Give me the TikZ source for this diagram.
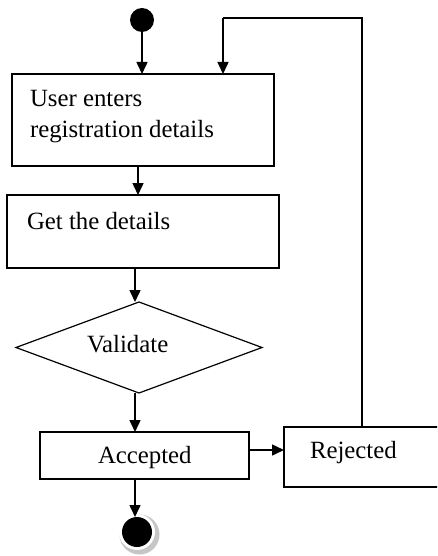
\documentclass[tikz,border=0pt]{standalone}
\usepackage{fontspec}
\setmainfont{Liberation Serif}
\usetikzlibrary{arrows.meta,shapes.geometric}
\begin{document}
\begin{tikzpicture}[x=1pt,y=-1pt,
  every node/.style={inner sep=0pt,outer sep=0pt},
  box/.style={draw,line width=1.5pt,fill=white},
  lbl/.style={anchor=base west,font=\fontsize{24.8}{32}\selectfont},
  arr/.style={line width=1.5pt,-{Triangle[width=11pt,length=12pt]}},
  ln/.style={line width=1.5pt}
]
\fill[white] (0,0) rectangle (437,556);
\useasboundingbox (0,0) rectangle (437,556);
\clip (0,0) rectangle (437,556);

% nodes
\node[circle,fill=black,minimum size=24pt] (start) at (142,20) {};
\node[box,minimum width=262pt,minimum height=92pt] (b1) at (143,120) {};
\node[lbl] (t1a) at (30,107) {User enters};
\node[lbl] (t1b) at (30,138) {registration details};
\node[box,minimum width=272pt,minimum height=73pt] (b2) at (143,231.5) {};
\node[lbl] (t2) at (27,229) {Get the details};
\node[draw,diamond,line width=1.2pt,minimum width=246pt,minimum height=91pt] (dia) at (139,347.5) {};
\node[lbl] (t3) at (87,352) {Validate};
\node[box,minimum width=209pt,minimum height=47pt] (acc) at (144.5,455.5) {};
\node[lbl] (t4) at (98,463) {Accepted};
\node[box,minimum width=156pt,minimum height=60pt] (rej) at (362,457) {};
\node[lbl] (t5) at (310,458) {Rejected};

% end state
\fill[gray!45] (139.5,534.5) circle (20pt);
\fill[white] (137,532) circle (18pt);
\node[circle,fill=black,minimum size=30pt] (end) at (137,532) {};

% helper coordinates
\coordinate (x1) at (138,0);
\coordinate (x2) at (135,0);
\coordinate (lp) at (223,18);
\coordinate (ay) at (0,450);

% connectors
\draw[arr] (start) -- (start |- b1.north);
\draw[arr] (x1 |- b1.south) -- (x1 |- b2.north);
\draw[arr] (x2 |- b2.south) -- (dia.north -| x2);
\draw[arr] (dia.south -| x2) -- (x2 |- acc.north);
\draw[arr] (acc.east |- ay) -- (rej.west |- ay);
\draw[arr] (x2 |- acc.south) -- (x2 |- end.north);
\draw[ln] (rej.north) |- (lp);
\draw[arr] (lp) -- (lp |- b1.north);
\end{tikzpicture}
\end{document}
